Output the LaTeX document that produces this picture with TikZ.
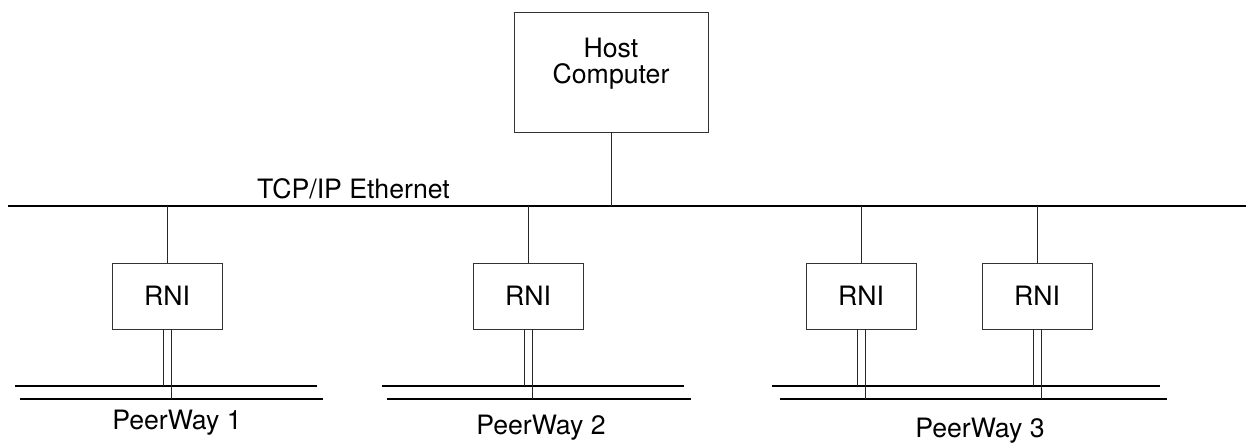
\documentclass[tikz,border=0pt]{standalone}
\usepackage{fontspec}
\setmainfont{TeX Gyre Heros}
\usepackage{tikz}

\begin{document}
\begin{tikzpicture}[x=0.75pt,y=0.75pt,yscale=-1,xscale=1,
  font=\fontsize{20}{19.5}\selectfont,
  box/.style={draw=black!80, line width=0.6pt, minimum width=82.5pt, minimum height=49.5pt, inner sep=0pt},
  hostbox/.style={draw=black!80, line width=0.6pt, minimum width=145.5pt, minimum height=90pt, inner sep=0pt},
  bus/.style={line width=2pt},
  tap/.style={line width=0.6pt, draw=black!85},
  lbl/.style={inner sep=0.75pt}]
\useasboundingbox (0,0) rectangle (1246,443);

%Ethernet backbone
\coordinate (ethW) at (8,206);
\coordinate (ethE) at (1246,206);
\draw [bus] (ethW) -- (ethE);
% Text Node
\node [lbl] (ethlbl) at (353.5,189) {TCP/IP Ethernet};

%Host computer
\node [hostbox] (host) at (611,72) {};
\node [lbl, align=center] (hosttxt) at (611,64) {Host\\Computer};
\draw [tap] (host.south) -- (host.south |- ethE);

%RNI boxes
\node [box] (rni1) at (167,296) {RNI};
\node [box] (rni2) at (528,296) {RNI};
\node [box] (rni3) at (861,296) {RNI};
\node [box] (rni4) at (1037,296) {RNI};
\foreach \r in {rni1,rni2,rni3,rni4}
  \draw [tap] (\r.north) -- (\r.north |- ethE);

%PeerWay buses: upper and lower cable
\coordinate (pw1uW) at (15,386);  \coordinate (pw1uE) at (317,386);
\coordinate (pw1lW) at (20,399);  \coordinate (pw1lE) at (323,399);
\coordinate (pw2uW) at (382,386); \coordinate (pw2uE) at (684,386);
\coordinate (pw2lW) at (387,399); \coordinate (pw2lE) at (691,399);
\coordinate (pw3uW) at (772,386); \coordinate (pw3uE) at (1160,386);
\coordinate (pw3lW) at (780,399); \coordinate (pw3lE) at (1167,399);
\foreach \p in {pw1,pw2,pw3} {
  \draw [bus] (\p uW) -- (\p uE);
  \draw [bus] (\p lW) -- (\p lE);
}

%Drops from RNI to PeerWay
\foreach \r/\p in {rni1/pw1,rni2/pw2,rni3/pw3,rni4/pw3} {
  \draw [tap] ([xshift=-3pt]\r.south) -- ([xshift=-3pt]\r.south |- \p uW);
  \draw [tap] ([xshift=3pt]\r.south) -- ([xshift=3pt]\r.south |- \p lW);
}

% Text Node
\node [lbl] (pw1lbl) at (177,423) {PeerWay 1};
% Text Node
\node [lbl] (pw2lbl) at (541,428) {PeerWay 2};
% Text Node
\node [lbl] (pw3lbl) at (980,431) {PeerWay 3};

\end{tikzpicture}
\end{document}
